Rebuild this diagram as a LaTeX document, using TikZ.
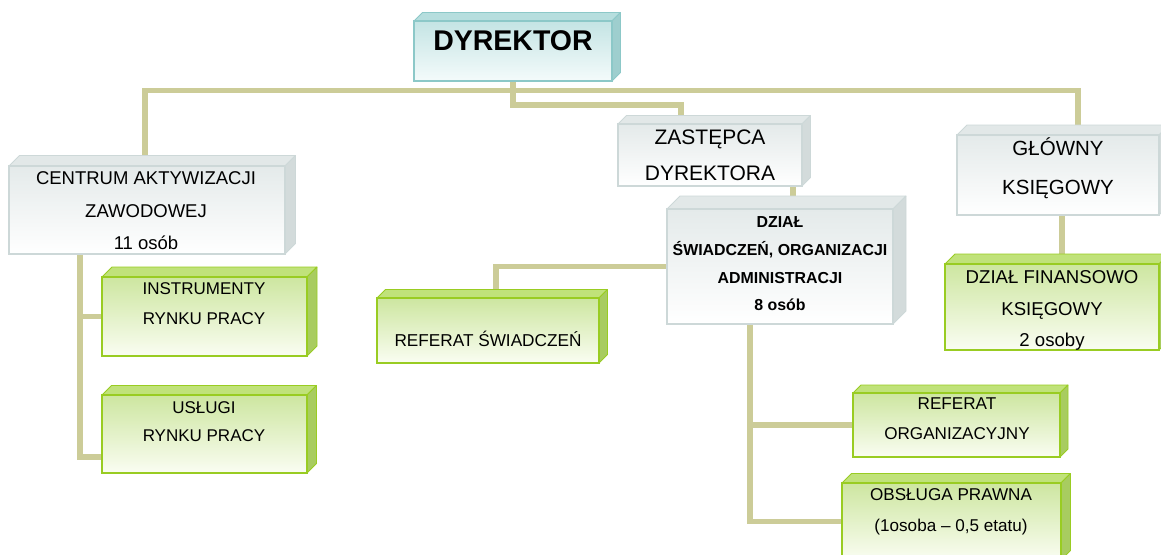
\documentclass[tikz,border=0pt]{standalone}
\usepackage{fontspec}
\setmainfont{Liberation Sans}
\pgfdeclarelayer{bg}
\pgfsetlayers{bg,main}
\definecolor{conncol}{RGB}{204,204,152}
\definecolor{tealtop}{RGB}{182,222,222}
\definecolor{tealside}{RGB}{158,206,206}
\definecolor{tealedge}{RGB}{140,200,200}
\definecolor{tealhi}{RGB}{196,228,228}
\definecolor{teallo}{RGB}{244,251,251}
\definecolor{greytop}{RGB}{226,232,232}
\definecolor{greyside}{RGB}{211,219,219}
\definecolor{greyedge}{RGB}{205,216,216}
\definecolor{greyhi}{RGB}{228,234,234}
\definecolor{greylo}{RGB}{255,255,255}
\definecolor{greentop}{RGB}{192,226,122}
\definecolor{greenside}{RGB}{168,204,96}
\definecolor{greenedge}{RGB}{153,204,34}
\definecolor{greenhi}{RGB}{205,230,160}
\definecolor{greenlo}{RGB}{250,253,242}
\tikzset{
  conn/.style={draw=conncol, line width=5.5pt, line join=miter},
  facet/.style={line width=0.8pt, line join=round},
  tealfront/.style={draw=tealedge, line width=1.5pt, top color=tealhi, bottom color=teallo, inner sep=0pt, outer sep=0pt},
  greyfront/.style={draw=greyedge, line width=1.5pt, top color=greyhi, bottom color=greylo, inner sep=0pt, outer sep=0pt},
  greenfront/.style={draw=greenedge, line width=1.8pt, top color=greenhi, bottom color=greenlo, inner sep=0pt, outer sep=0pt},
  txt/.style={align=center, inner sep=0pt, outer sep=0pt, anchor=north, text=black}
}
% #1 name, #2 colour set, #3 x0, #4 y0, #5 x1, #6 y1, #7 depth
\newcommand\mycube[7]{%
  \filldraw[facet, fill=#2top, draw=#2edge] (#3,#4) -- ++(#7,-#7) -- (#5+#7,#4-#7) -- (#5,#4) -- cycle;
  \filldraw[facet, fill=#2side, draw=#2edge] (#5,#4) -- (#5+#7,#4-#7) -- (#5+#7,#6-#7) -- (#5,#6) -- cycle;
  \node[#2front, minimum width={(#5-#3)*1pt}, minimum height={(#6-#4)*1pt}, anchor=north west] (#1) at (#3,#4) {};
}
\begin{document}
\begin{tikzpicture}[x=1pt,y=-1pt]
\useasboundingbox (0,0) rectangle (1161,554);
\clip (0,0) rectangle (1161,554);

% boxes
\mycube{dyr}{teal}{414}{21}{612}{81}{8.5}
\mycube{cen}{grey}{9}{166}{285}{254}{10.5}
\mycube{zas}{grey}{618}{124}{802}{186}{8.5}
\mycube{glo}{grey}{957}{135}{1159}{215}{10}
\mycube{dzs}{grey}{667}{209}{893}{324}{13}
\mycube{ins}{green}{102}{277}{307}{356}{10}
\mycube{usl}{green}{102}{395}{307}{473}{9.5}
\mycube{rsw}{green}{377}{298}{599}{363}{8.5}
\mycube{fin}{green}{945}{264}{1159}{350}{10}
\mycube{rorg}{green}{853}{393}{1060}{457}{8}
\mycube{obs}{green}{842}{483}{1061}{560}{9.5}

% texts
\node[txt, anchor=base, font=\fontsize{28.5}{34}\selectfont\bfseries] (dyr-t) at (513,50.2) {DYREKTOR};
\node[txt, font=\fontsize{18.5}{32.5}\selectfont] (cen-t) at (146,161.9) {\strut CENTRUM AKTYWIZACJI\\\strut ZAWODOWEJ\\\strut 11 osób};
\node[txt, font=\fontsize{21}{36}\selectfont] (zas-t) at (710,119.3) {\strut ZASTĘPCA\\\strut DYREKTORA};
\node[txt, font=\fontsize{20.5}{39}\selectfont] (glo-t) at (1058,128.0) {\strut GŁÓWNY\\\strut KSIĘGOWY};
\node[txt, font=\fontsize{15.9}{27.7}\selectfont\bfseries] (dzs-t) at (780,208.3) {\strut DZIAŁ\\\strut ŚWIADCZEŃ, ORGANIZACJI\\\strut ADMINISTRACJI\\\strut 8 osób};
\node[txt, font=\fontsize{17}{30}\selectfont] (ins-t) at (204,273.1) {\strut INSTRUMENTY\\\strut RYNKU PRACY};
\node[txt, font=\fontsize{17}{28}\selectfont] (usl-t) at (204,393.5) {\strut USŁUGI\\\strut RYNKU PRACY};
\node[txt, anchor=base, font=\fontsize{17.2}{30}\selectfont] (rsw-t) at (488,346.2) {REFERAT ŚWIADCZEŃ};
\node[txt, font=\fontsize{18.6}{31.5}\selectfont] (fin-t) at (1052,261.6) {\strut DZIAŁ FINANSOWO\\\strut KSIĘGOWY\\\strut 2 osoby};
\node[txt, font=\fontsize{17.1}{30}\selectfont] (rorg-t) at (957,388.1) {\strut REFERAT\\\strut ORGANIZACYJNY};
\node[txt, font=\fontsize{17.1}{31}\selectfont] (obs-t) at (951,478.4) {\strut OBSŁUGA PRAWNA\\\strut (1osoba – 0,5 etatu)};

% connectors
\begin{pgfonlayer}{bg}
\draw[conn] (dyr.south) -- ++(0,24) -| ([xshift=-29pt]zas.north);
\draw[conn] ([xshift=-2pt]cen.north) -- ++(0,-75.5) -| ([xshift=20pt]glo.north);
\draw[conn] ([xshift=4pt]glo.south) -- ([xshift=4pt]glo.south |- fin.north);
\draw[conn] ([xshift=83pt]zas.south) -- ([xshift=83pt]zas.south |- dzs.north);
\draw[conn] (dzs.west) -| ([xshift=8pt]rsw.north);
\draw[conn] ([xshift=-30pt]dzs.south) |- (obs.west);
\draw[conn] ([xshift=-30pt]dzs.south |- rorg.west) -- (rorg.west);
\draw[conn] ([xshift=-67pt]cen.south) |- ([yshift=16pt]usl.south west);
\draw[conn] ([xshift=-67pt]cen.south |- ins.west) -- (ins.west);
\end{pgfonlayer}
\end{tikzpicture}
\end{document}
